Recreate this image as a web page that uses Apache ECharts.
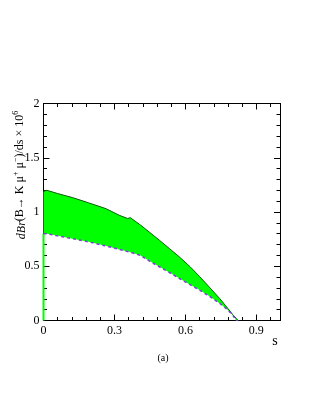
<!DOCTYPE html>
<html>
<head>
<meta charset="utf-8">
<script src="https://cdn.jsdelivr.net/npm/echarts@6/dist/echarts.min.js"></script>
<style>
html, body { margin: 0; padding: 0; background: #fff; }
#chart { width: 321px; height: 415px; }
</style>
</head>
<body>
<div id="chart"></div>
<script>
// s 值与上下边界
var sValues = [0, 0.014, 0.06, 0.124, 0.19, 0.265, 0.32, 0.356, 0.367, 0.41, 0.45, 0.49, 0.534, 0.575, 0.62, 0.66, 0.70, 0.746, 0.78, 0.80, 0.815, 0.823];
var upperValues = [1.19, 1.20, 1.17, 1.132, 1.085, 1.03, 0.97, 0.94, 0.948, 0.88, 0.81, 0.74, 0.66, 0.585, 0.495, 0.405, 0.31, 0.20, 0.11, 0.055, 0.02, 0];
var lowerValues = [0.80, 0.80, 0.78, 0.754, 0.725, 0.686, 0.655, 0.635, 0.63, 0.60, 0.545, 0.495, 0.44, 0.387, 0.33, 0.28, 0.225, 0.157, 0.095, 0.05, 0, 0];
// 左边的竖直绿线
var edgeS = [0, 0];
var edgeValues = [0, 0.8];
var xTickLabels = ['0', '0.3', '0.6', '0.9'];
var yTickLabels = ['0', '0.5', '1', '1.5', '2'];

var serif = '"Liberation Serif", "DejaVu Serif", serif';

function pairs(xs, ys) {
	var out = [];
	for (var i = 0; i < xs.length; i++) out.push([xs[i], ys[i]]);
	return out;
}

function xAxisDef(pos, step, len, labels) {
	return {
		type: 'value', position: pos, min: 0, max: 1, interval: step,
		axisLine: { show: true, onZero: false, lineStyle: { color: '#000', width: 1 } },
		axisTick: { show: true, inside: true, length: len, lineStyle: { color: '#000', width: 1 } },
		axisLabel: labels ? {
			show: true, margin: 4, color: '#000', fontSize: 12, fontFamily: serif, showMaxLabel: false,
			formatter: function (v) {
				var idx = Math.round(v / 0.3);
				return Math.abs(v - idx * 0.3) < 1e-6 ? xTickLabels[idx] : '';
			}
		} : { show: false },
		splitLine: { show: false }
	};
}

function yAxisDef(pos, step, len, labels) {
	return {
		type: 'value', position: pos, min: 0, max: 2, interval: step,
		axisLine: { show: true, onZero: false, lineStyle: { color: '#000', width: 1 } },
		axisTick: { show: true, inside: true, length: len, lineStyle: { color: '#000', width: 1 } },
		axisLabel: labels ? {
			show: true, margin: 4, color: '#000', fontSize: 12, fontFamily: serif,
			formatter: function (v) { return yTickLabels[Math.round(v / 0.5)]; }
		} : { show: false },
		splitLine: { show: false }
	};
}

// 上下边界之间的绿色带
function renderBand(params, api) {
	if (params.dataIndex !== 0) return;
	var pts = [];
	for (var i = 0; i < sValues.length; i++) pts.push(api.coord([sValues[i], upperValues[i]]));
	for (var j = sValues.length - 1; j >= 0; j--) pts.push(api.coord([sValues[j], lowerValues[j]]));
	return {
		type: 'polygon',
		shape: { points: pts },
		style: { fill: '#00ff00', stroke: null }
	};
}

var myChart = echarts.init(document.getElementById('chart'), null, { renderer: 'canvas' });

var option = {
	animation: false,
	backgroundColor: '#fff',
	grid: { left: 43.5, right: 41, top: 103.5, bottom: 94.5, containLabel: false },
	xAxis: [
		xAxisDef('bottom', 0.3, 6, true),
		xAxisDef('bottom', 0.06, 3.5, false),
		xAxisDef('top', 0.3, 6, false),
		xAxisDef('top', 0.06, 3.5, false)
	],
	yAxis: [
		yAxisDef('left', 0.5, 6, true),
		yAxisDef('left', 0.1, 3.5, false),
		yAxisDef('right', 0.5, 6, false),
		yAxisDef('right', 0.1, 3.5, false)
	],
	series: [
		{
			name: 'band', type: 'custom', renderItem: renderBand,
			data: pairs(sValues, upperValues), z: 1, silent: true
		},
		{
			name: 'edge', type: 'line', symbol: 'none',
			data: pairs(edgeS, edgeValues),
			lineStyle: { color: '#00ff00', width: 2 }, z: 2
		},
		{
			name: 'upper', type: 'line', symbol: 'none',
			data: pairs(sValues, upperValues),
			lineStyle: { color: '#0a5a0a', width: 1 }, z: 3
		},
		{
			name: 'lower', type: 'line', symbol: 'none',
			data: pairs(sValues, lowerValues),
			lineStyle: { color: '#7f3fd8', width: 1.5, type: [3, 3] }, z: 3
		}
	],
	graphic: [
		{
			type: 'text', x: 20, y: 175, rotation: Math.PI / 2,
			style: {
				text: '{i|dBr}(B\u2192 K \u03bc{sup|+} \u03bc{sup|\u2212})/ds \u00d7 10{sup|6}',
				align: 'center', verticalAlign: 'middle',
				font: '12px ' + serif, fill: '#000',
				rich: {
					i: { fontStyle: 'italic', fontSize: 12, fontFamily: serif, fill: '#000', lineHeight: 16, verticalAlign: 'bottom' },
					sup: { fontSize: 8, fontFamily: serif, fill: '#000', lineHeight: 16, verticalAlign: 'top' }
				}
			}
		},
		{
			type: 'text', x: 275, y: 341,
			style: { text: 's', align: 'center', verticalAlign: 'middle', font: '14px ' + serif, fill: '#000' }
		},
		{
			type: 'text', x: 163, y: 358,
			style: { text: '(a)', align: 'center', verticalAlign: 'middle', font: '10px ' + serif, fill: '#000' }
		}
	]
};

myChart.setOption(option);
</script>
</body>
</html>
